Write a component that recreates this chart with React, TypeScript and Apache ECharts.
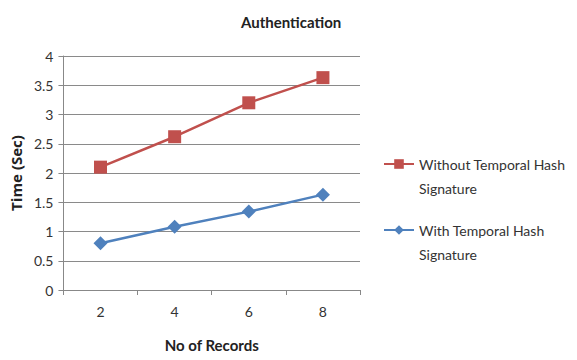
import React, { useEffect, useRef } from "react";
import * as echarts from "echarts";

const categories = ["2", "4", "6", "8"];
const withoutHash = [2.1, 2.62, 3.2, 3.63];
const withHash = [0.8, 1.08, 1.34, 1.63];
const seriesNames = ["Without Temporal Hash", "With Temporal Hash"];
const secondLines = ["Signature", "Signature"];
const FONT = "Lato";

export default function App() {
  const ref = useRef<HTMLDivElement>(null);
  useEffect(() => {
    if (!ref.current) return;
    const chart = echarts.init(ref.current, undefined, { renderer: "svg" });
    chart.setOption({
      animation: false,
      backgroundColor: "#ffffff",
      textStyle: { fontFamily: FONT },
      title: {
        text: "Authentication",
        left: 236,
        top: 9,
        textStyle: { fontFamily: FONT, fontSize: 15, fontWeight: "bold", color: "#222" },
      },
      legend: {
        orient: "vertical",
        left: 378,
        top: 151,
        itemGap: 50,
        itemWidth: 30,
        itemHeight: 12,
        data: seriesNames,
        textStyle: { fontFamily: FONT, fontSize: 14, color: "#333", lineHeight: 16 },
      },
      graphic: secondLines.map((t, i) => ({
        type: "text",
        left: 419,
        top: 181 + i * 66,
        style: { text: t, font: `14px ${FONT}`, fill: "#333" },
      })),
      grid: { left: 63, right: 217, top: 56, bottom: 70 },
      xAxis: {
        type: "category",
        data: categories,
        boundaryGap: true,
        name: "No of Records",
        nameLocation: "middle",
        nameGap: 47,
        nameTextStyle: { fontFamily: FONT, fontSize: 15, fontWeight: "bold", color: "#222" },
        axisLine: { lineStyle: { color: "#888" } },
        axisTick: { show: true, length: 5, lineStyle: { color: "#888" } },
        axisLabel: { fontFamily: FONT, fontSize: 14, color: "#333", margin: 14 },
      },
      yAxis: {
        type: "value",
        min: 0,
        max: 4,
        interval: 0.5,
        name: "Time (Sec)",
        nameLocation: "middle",
        nameGap: 38,
        nameTextStyle: { fontFamily: "Open Sans", fontSize: 15, fontWeight: "bold", color: "#222" },
        axisLine: { show: true, lineStyle: { color: "#888" } },
        axisTick: { show: true, length: 5, inside: false, lineStyle: { color: "#888" } },
        axisLabel: { fontFamily: FONT, fontSize: 14, color: "#333", margin: 10 },
        splitLine: { lineStyle: { color: "#8a8a8a", width: 1 } },
      },
      series: [
        {
          name: seriesNames[0],
          type: "line",
          data: withoutHash,
          symbol: "rect",
          symbolSize: 13,
          lineStyle: { color: "#C0504D", width: 2.5 },
          itemStyle: { color: "#C0504D" },
        },
        {
          name: seriesNames[1],
          type: "line",
          data: withHash,
          symbol: "diamond",
          symbolSize: 14,
          lineStyle: { color: "#4F81BD", width: 2.5 },
          itemStyle: { color: "#4F81BD" },
        },
      ],
    });
    return () => chart.dispose();
  }, []);
  return <div ref={ref} style={{ width: 577, height: 360, position: "absolute", left: 0, top: 0 }} />;
}
